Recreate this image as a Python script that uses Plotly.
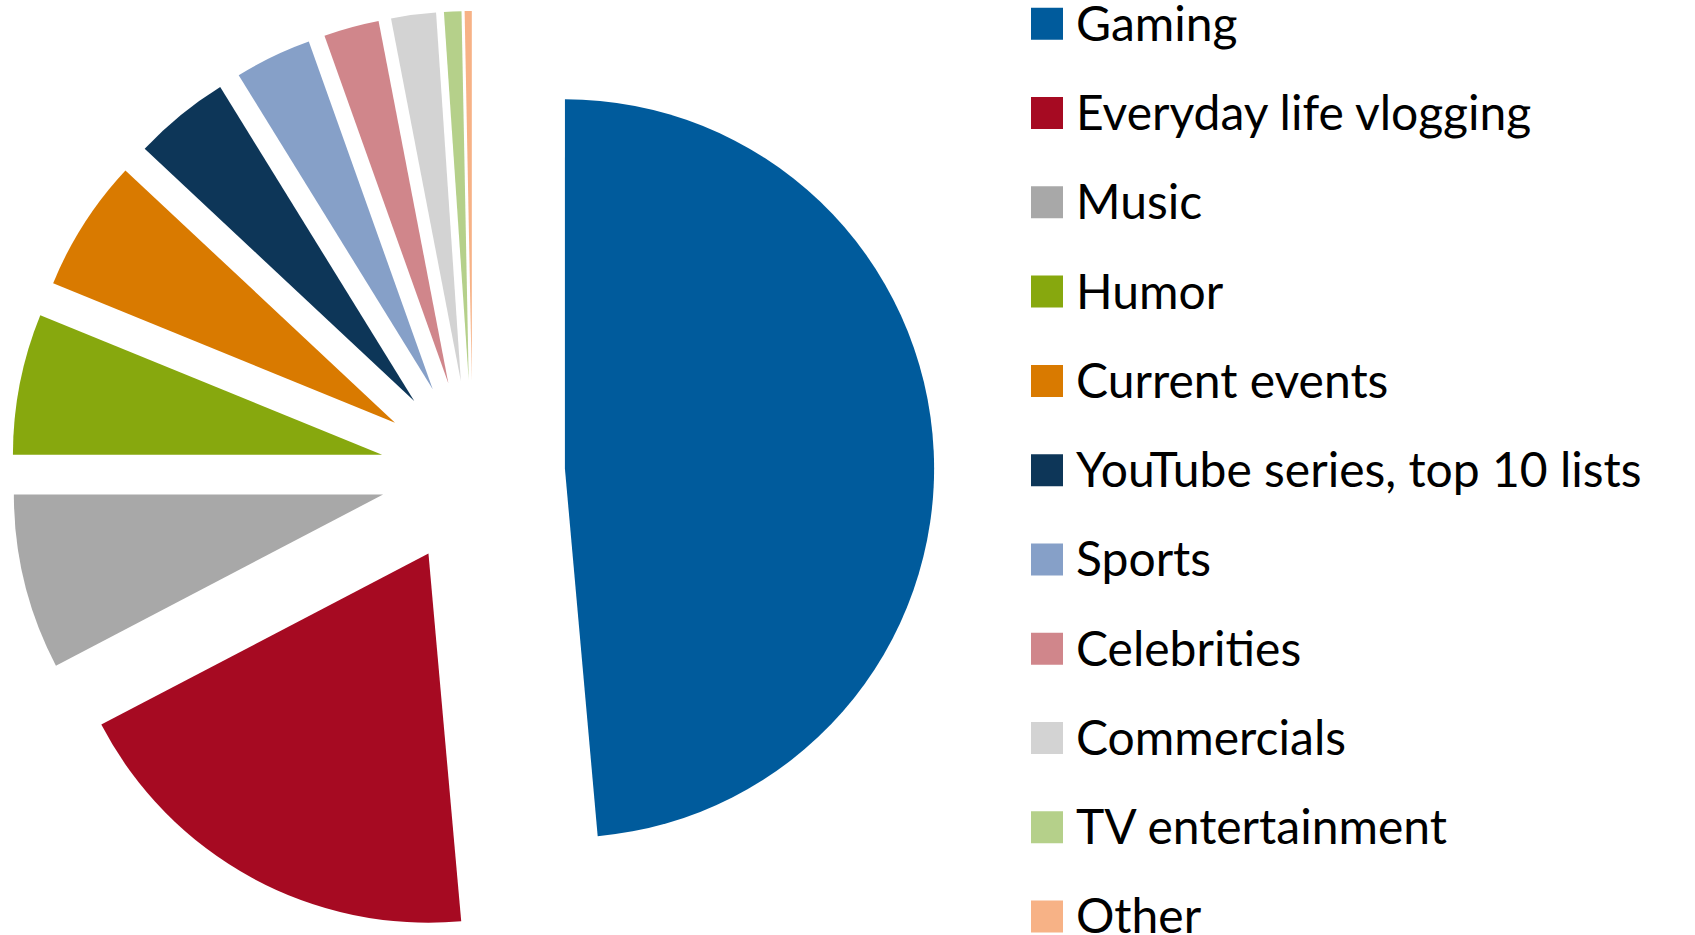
import plotly.graph_objects as go

# Share of viewing time by content category (percent)
categories = [
    "Gaming",
    "Everyday life vlogging",
    "Music",
    "Humor",
    "Current events",
    "YouTube series, top 10 lists",
    "Sports",
    "Celebrities",
    "Commercials",
    "TV entertainment",
    "Other",
]
shares = [48.6, 18.75, 7.67, 6.17, 5.81, 4.22, 3.36, 2.42, 1.96, 0.76, 0.31]
colors = [
    "#005b9c", "#a60a22", "#a8a8a8", "#87a80e", "#d97a00", "#0d3658",
    "#86a0c8", "#d0868b", "#d3d3d3", "#b5d08a", "#f7b286",
]

W, H = 1695, 935

fig = go.Figure(
    go.Pie(
        labels=categories,
        values=shares,
        marker=dict(colors=colors, line=dict(width=0)),
        sort=False,
        direction="clockwise",
        rotation=0,
        pull=[0.25] * len(categories),
        textinfo="none",
        hoverinfo="label+percent",
        showlegend=False,
        domain=dict(x=[0, 945.4 / W], y=[1 / H, 1 - 11 / H]),
    )
)

# Legend drawn as large square swatches with labels
sw = 32
x0 = 1031
y_first = 23.8
step = 89.27
shapes = []
annotations = []
for i, (name, col) in enumerate(zip(categories, colors)):
    yc = y_first + i * step
    shapes.append(dict(
        type="rect", xref="paper", yref="paper",
        x0=x0 / W, x1=(x0 + sw) / W,
        y0=1 - (yc + sw / 2) / H, y1=1 - (yc - sw / 2) / H,
        fillcolor=col, line=dict(width=0),
    ))
    annotations.append(dict(
        text=name, xref="paper", yref="paper",
        x=1074 / W, y=1 - (yc - 1.5) / H,
        xanchor="left", yanchor="middle", showarrow=False,
        font=dict(family="Lato", size=48, color="#000000"),
    ))

fig.update_layout(
    width=W, height=H,
    margin=dict(l=0, r=0, t=0, b=0),
    paper_bgcolor="white",
    plot_bgcolor="white",
    shapes=shapes,
    annotations=annotations,
)

fig.write_html("out.html")
